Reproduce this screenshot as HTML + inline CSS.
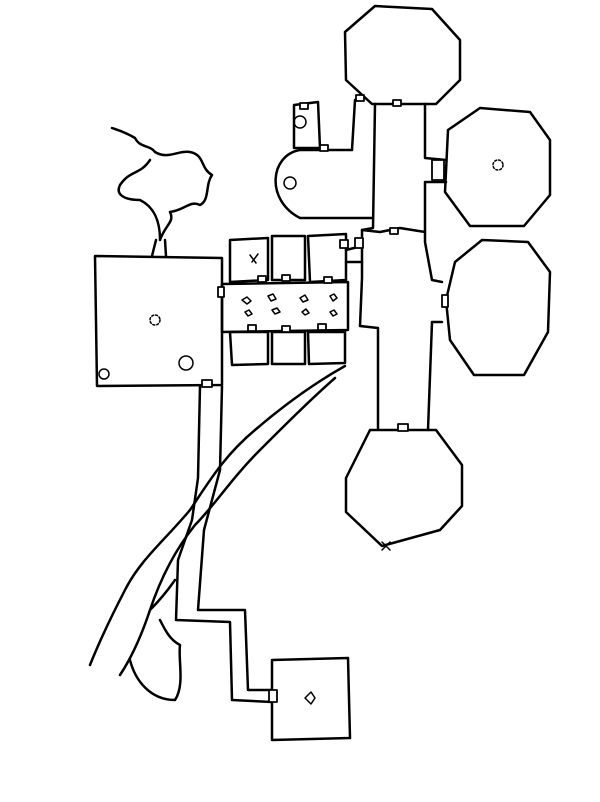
<!DOCTYPE html>
<html><head><meta charset="utf-8"><style>html,body{margin:0;padding:0;background:#fff;width:600px;height:802px;overflow:hidden}</style></head>
<body>
<svg width="600" height="802" viewBox="0 0 600 802" xmlns="http://www.w3.org/2000/svg" fill="none" stroke="#000" stroke-width="2.5" stroke-linejoin="round" stroke-linecap="round">
<path d="M345,32 L375,6 L432,9 L460,40 L460,80 L436,104 L372,104 L346,80 Z"/>
<path d="M448,130 L480,108 L530,112 L550,140 L550,195 L524,226 L470,226 L445,192 Z"/>
<path d="M455,262 L482,240 L528,242 L550,272 L548,332 L524,375 L474,375 L450,340 L446,300 Z"/>
<path d="M346,478 L370,430 L436,430 L462,465 L462,506 L440,530 L382,546 L346,512 Z"/>
<path d="M375,104 L373,228 L362,230 L362,278 L360,326 L378,328 L378,428"/>
<path d="M425,104 L425,158 L446,160 M446,182 L425,182 L425,242 L432,280 L442,282 M442,322 L432,322 L428,430"/>
<path d="M362,230 L380,232 L400,228 L425,232"/>
<path d="M95,256 L222,258 L222,385 L97,386 Z"/>
<path d="M152,256 L156,240 M166,256 L165,240"/>
<path d="M230,240 L268,238 L268,280 L230,282 Z"/>
<path d="M272,236 L305,236 L305,280 L272,280 Z"/>
<path d="M308,236 L346,234 L346,280 L310,282 Z"/>
<path d="M222,284 L348,282 L348,330 L222,332 Z"/>
<path d="M230,332 L268,332 L268,364 L232,365 Z"/>
<path d="M272,332 L305,332 L305,364 L272,364 Z"/>
<path d="M308,332 L345,332 L345,363 L309,364 Z"/>
<path d="M346,250 L362,246 M346,262 L362,262"/>
<path d="M300,150 C270,155 265,200 300,218 L372,218 M352,150 L300,150 M352,150 L355,100"/>
<path d="M294,105 L318,102 L320,148 L294,148 Z"/>
<path d="M160,240 C165,225 175,222 170,212 C185,210 190,200 200,205 C210,200 205,185 212,175 C200,168 205,155 190,152 C178,150 168,160 155,152 C150,145 140,148 135,138 C125,132 118,130 112,128 M150,160 C140,175 130,170 120,185 C115,195 125,200 140,200 C150,205 160,215 160,240"/>
<path d="M200,386 L198,478 L192,520 L178,560 L176,620 L230,622 L232,700 L272,702"/>
<path d="M222,386 L220,470 L204,530 L198,610 L245,610 L248,690 L272,690"/>
<path d="M272,660 L348,658 L350,738 L272,740 Z"/>
<path d="M345,366 C320,380 290,400 255,430 C225,455 210,480 190,510 C165,540 140,560 125,590 C112,615 100,640 90,665"/>
<path d="M335,378 C310,400 285,425 260,450 C230,480 215,505 195,525 C175,550 160,580 150,610 C140,640 130,660 120,675 M130,660 C135,680 150,700 175,700 C185,685 178,660 180,645 C170,640 165,630 160,620"/>
<path d="M150,610 C160,600 168,590 175,580"/>
<g fill="#fff" stroke-width="1.8">
<rect x="300" y="103" width="8" height="6"/><rect x="356" y="95" width="8" height="6"/><rect x="393" y="100" width="8" height="6"/>
<rect x="320" y="145" width="8" height="6"/><rect x="432" y="160" width="12" height="20"/><rect x="390" y="228" width="8" height="6"/>
<rect x="218" y="287" width="6" height="10"/><rect x="258" y="276" width="8" height="6"/><rect x="282" y="275" width="8" height="6"/>
<rect x="324" y="277" width="8" height="6"/><rect x="248" y="325" width="8" height="6"/><rect x="282" y="326" width="8" height="6"/>
<rect x="318" y="324" width="8" height="6"/><rect x="340" y="240" width="8" height="8"/><rect x="355" y="238" width="8" height="10"/>
<rect x="398" y="424" width="10" height="7"/><rect x="202" y="380" width="10" height="7"/><rect x="269" y="690" width="8" height="12"/>
<rect x="442" y="295" width="6" height="12"/>
</g>
<g stroke-width="1.5">
<circle cx="300" cy="122" r="6"/><circle cx="290" cy="183" r="6"/><circle cx="186" cy="363" r="7"/><circle cx="155" cy="320" r="5" stroke-dasharray="2 2"/>
<circle cx="498" cy="165" r="5" stroke-dasharray="2 2"/><circle cx="104" cy="374" r="5"/>
<path d="M242,300 l5,-3 l4,4 l-4,3 Z M268,296 l5,-2 l3,5 l-5,2 Z M300,298 l5,-3 l3,5 l-5,2 Z M330,296 l4,-2 l3,4 l-4,3 Z M245,312 l4,-2 l3,4 l-4,2 Z M272,310 l5,-2 l3,4 l-5,2 Z M302,312 l4,-3 l3,4 l-4,2 Z M330,312 l4,-2 l3,4 l-4,2 Z"/>
<path d="M305,698 l6,-6 l4,6 l-4,6 Z"/>
<path d="M250,255 l6,8 M252,262 l6,-8 M382,542 l8,8 M390,542 l-8,8"/>
</g>
</svg>
</body></html>
